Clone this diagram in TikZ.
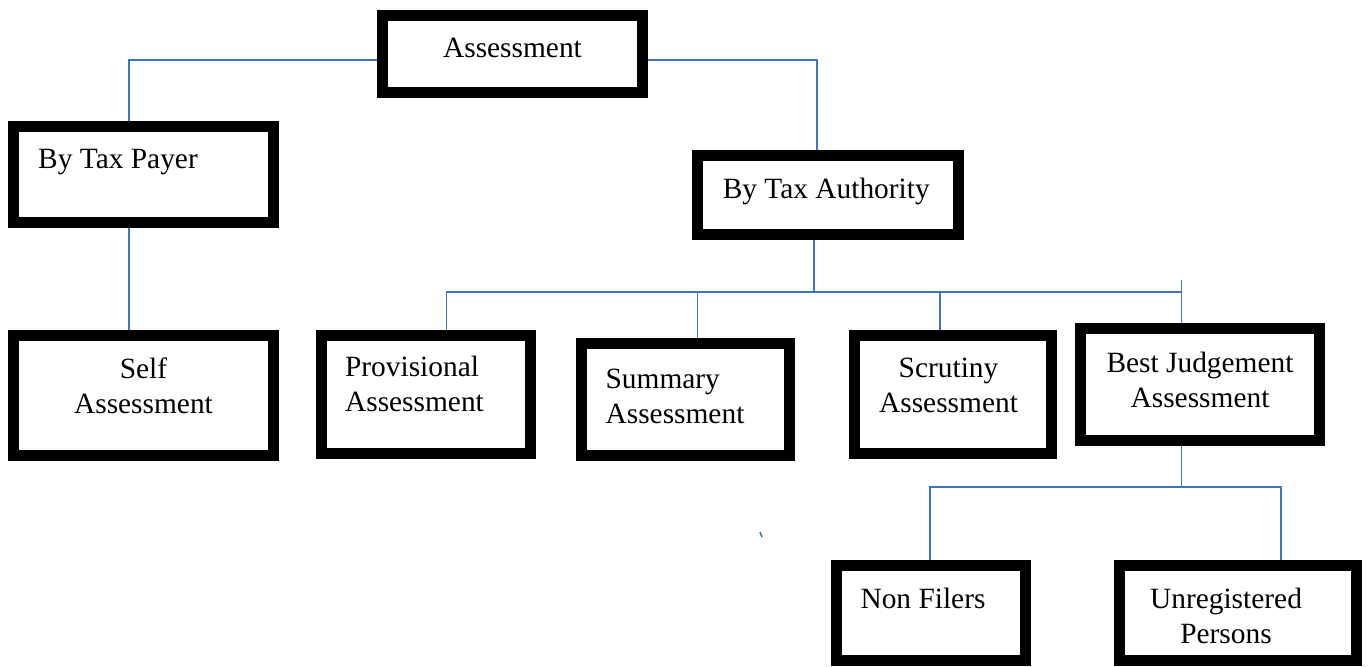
\documentclass[tikz,border=0pt]{standalone}
\usepackage{fontspec}
\setmainfont{Liberation Serif}
\definecolor{linkblue}{RGB}{68,114,196}
% text inside a box, moved by (#1,#2) from the box centre, column type #3
\newcommand{\boxtext}[4]{\raisebox{#2}[\height][\depth]{\makebox[0pt]{\hspace*{#1}\hspace*{#1}\begin{tabular}{@{}#3@{}}#4\end{tabular}}}}
\begin{document}
\begin{tikzpicture}[x=0.5pt,y=-0.5pt,
  box/.style={draw,rectangle,line width=5.5pt,inner sep=0pt,font=\fontsize{14.7}{17.5}\selectfont},
  link/.style={draw=linkblue,line width=0.8pt}]
\useasboundingbox (0,0) rectangle (1368,666);
\node[box,minimum width=130pt,minimum height=38.5pt] (assess) at (512.5,54) {\boxtext{0pt}{2pt}{c}{Assessment}};
\node[box,minimum width=130pt,minimum height=48pt] (payer) at (143.5,174.5) {\boxtext{-12.75pt}{6.75pt}{l}{By Tax Payer}};
\node[box,minimum width=130.25pt,minimum height=39.5pt] (auth) at (827.75,195) {\boxtext{-0.75pt}{2pt}{c}{By Tax Authority}};
\node[box,minimum width=130pt,minimum height=60pt] (self) at (143.5,395.5) {\boxtext{0pt}{3.5pt}{c}{Self\\Assessment}};
\node[box,minimum width=104.5pt,minimum height=59pt] (prov) at (426,394.5) {\boxtext{-5.75pt}{4pt}{l}{Provisional\\Assessment}};
\node[box,minimum width=104pt,minimum height=56pt] (summ) at (685.5,399.5) {\boxtext{-5.25pt}{0.5pt}{l}{Summary\\Assessment}};
\node[box,minimum width=98.5pt,minimum height=59pt] (scrut) at (953,394.5) {\boxtext{-2.25pt}{3.5pt}{c}{Scrutiny\\Assessment}};
\node[box,minimum width=119.5pt,minimum height=56pt] (best) at (1200,384.5) {\boxtext{0pt}{1pt}{c}{Best Judgement\\Assessment}};
\node[box,minimum width=94.5pt,minimum height=47.5pt] (nonf) at (931,613) {\boxtext{-4pt}{6pt}{l}{Non Filers}};
\node[box,minimum width=118.5pt,minimum height=47.5pt] (unreg) at (1238,613) {\boxtext{-6pt}{-2.75pt}{c}{Unregistered\\Persons}};
% top level
\draw[link] ([yshift=-3pt]assess.west) -| ([xshift=-7.25pt]payer.north);
\draw[link] ([yshift=-3pt]assess.east) -| ([xshift=-5.4pt]auth.north);
\draw[link] ([xshift=-7.25pt]payer.south) -- ([xshift=-7.25pt]self.north);
% by tax authority
\draw[link] ([xshift=-6.9pt]auth.south) -- (814,292) coordinate (hub);
\draw[link] ([xshift=10.25pt]prov.north) |- (hub) -| ([xshift=-9.25pt]best.north);
\draw[link] ([xshift=6pt]summ.north) |- (hub);
\draw[link] ([xshift=-6.5pt]scrut.north) |- (hub);
\draw[link] ([xshift=-9.25pt]best.north) -- ++(0,-43);
% best judgement
\draw[link] ([xshift=-9.25pt]best.south) -- (1181.5,487) coordinate (hubb);
\draw[link] ([xshift=-0.5pt]nonf.north) |- (hubb) -| ([xshift=21.5pt]unreg.north);
\draw[link] (760,532) -- (762,537);
\end{tikzpicture}
\end{document}
